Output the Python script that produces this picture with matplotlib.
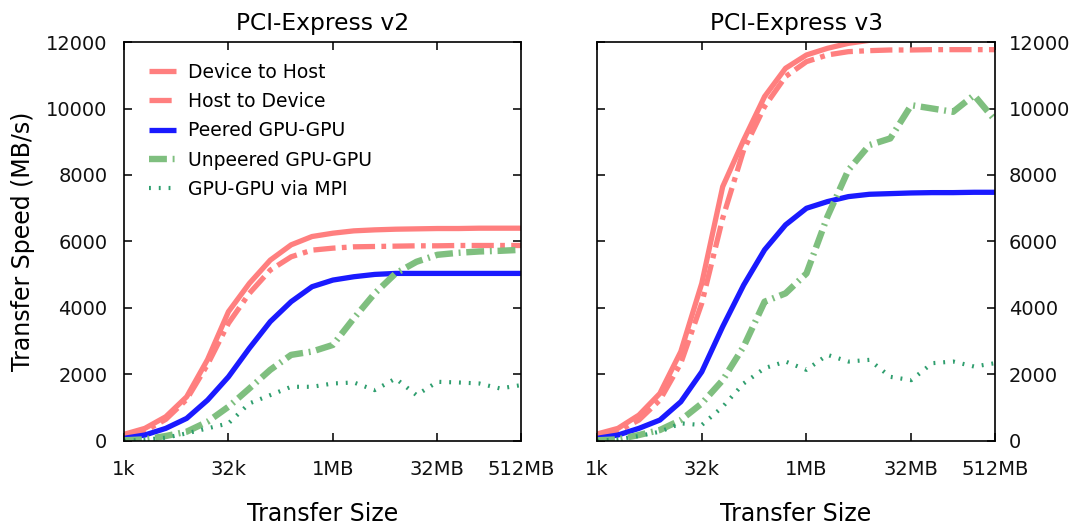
import numpy as np
import matplotlib
matplotlib.use("Agg")
import matplotlib.pyplot as plt

# transfer sizes: 2^10 (1k) .. 2^29 (512MB)
exponents = list(range(10, 30))
tick_exps = [10, 15, 20, 25, 29]
tick_labels = ["1k", "32k", "1MB", "32MB", "512MB"]

# PCI-Express v2 (MB/s)
v2_d2h = [200, 380, 730, 1330, 2450, 3890, 4740, 5440, 5900, 6150, 6250, 6320, 6350, 6370, 6380, 6390, 6390, 6400, 6400, 6400]
v2_h2d = [150, 300, 650, 1250, 2300, 3540, 4440, 5140, 5540, 5740, 5800, 5840, 5850, 5860, 5870, 5870, 5880, 5880, 5880, 5880]
v2_peer = [80, 180, 380, 680, 1230, 1930, 2790, 3590, 4190, 4640, 4840, 4940, 5010, 5040, 5040, 5040, 5040, 5040, 5040, 5040]
v2_unpeer = [20, 50, 150, 280, 580, 1030, 1580, 2140, 2590, 2690, 2890, 3690, 4440, 5040, 5390, 5600, 5660, 5700, 5720, 5750]
v2_mpi = [0, 40, 100, 230, 380, 530, 1130, 1380, 1630, 1630, 1730, 1760, 1530, 1880, 1380, 1780, 1760, 1730, 1580, 1680]

# PCI-Express v3 (MB/s)
v3_d2h = [210, 380, 780, 1430, 2690, 4740, 7650, 9050, 10360, 11210, 11610, 11810, 11960, 12050, 12100, 12150, 12150, 12200, 12200, 12200]
v3_h2d = [150, 300, 630, 1230, 2340, 4140, 6700, 8750, 10060, 10960, 11410, 11610, 11710, 11740, 11760, 11760, 11770, 11770, 11770, 11770]
v3_peer = [80, 180, 380, 630, 1180, 2080, 3440, 4690, 5750, 6500, 7000, 7200, 7350, 7420, 7440, 7460, 7470, 7470, 7480, 7480]
v3_unpeer = [20, 50, 180, 330, 630, 1130, 1830, 2840, 4190, 4440, 5040, 6750, 8150, 8900, 9100, 10100, 10000, 9900, 10400, 9650]
v3_mpi = [0, 50, 150, 280, 530, 480, 1030, 1730, 2190, 2390, 2140, 2590, 2390, 2440, 1930, 1830, 2340, 2390, 2240, 2340]

series_names = ["Device to Host", "Host to Device", "Peered GPU-GPU", "Unpeered GPU-GPU", "GPU-GPU via MPI"]

red = "#ff7f7f"
blue = "#1a1aff"
green = "#7fbf7f"
teal = "#2e9e6e"

styles = [
    dict(color=red, lw=3.8, ls="-"),
    dict(color=red, lw=3.8, ls=(0, (4.2, 1.2, 0.9, 1.2))),
    dict(color=blue, lw=3.8, ls="-"),
    dict(color=green, lw=4.6, ls=(0, (2.8, 0.9, 0.3, 0.9))),
    dict(color=teal, lw=3.0, ls=(0, (0.45, 1.9))),
]

fig = plt.figure(figsize=(10.8, 5.27), dpi=100)
ax1 = fig.add_axes([0.1148, 0.1632, 0.3676, 0.7571])
ax2 = fig.add_axes([0.5528, 0.1632, 0.3685, 0.7571])

x = 2.0 ** np.array(exponents)
panels = [
    (ax1, "PCI-Express v2", [v2_d2h, v2_h2d, v2_peer, v2_unpeer, v2_mpi]),
    (ax2, "PCI-Express v3", [v3_d2h, v3_h2d, v3_peer, v3_unpeer, v3_mpi]),
]

for ax, title, data in panels:
    for name, vals, st in zip(series_names, data, styles):
        ax.plot(x, vals, label=name, solid_capstyle="butt", dash_capstyle="butt", **st)
    ax.set_xscale("log", base=2)
    ax.set_xlim(2.0 ** 10, 2.0 ** 29)
    ax.set_ylim(0, 12000)
    ax.set_xticks(2.0 ** np.array(tick_exps))
    ax.set_xticklabels(tick_labels)
    ax.minorticks_off()
    ax.set_yticks(np.arange(0, 12001, 2000))
    ax.tick_params(direction="in", length=6, width=1.2, top=True, right=True, left=True,
                   labelsize=14, colors="#111111")
    ax.tick_params(axis="x", pad=14)
    ax.set_title(title, fontsize=16.8, pad=9)
    ax.set_xlabel("Transfer Size", fontsize=17, labelpad=16)
    for sp in ax.spines.values():
        sp.set_linewidth(1.2)

ax1.tick_params(axis="y", pad=12)
ax1.set_ylabel("Transfer Speed (MB/s)", fontsize=17, labelpad=8)
ax2.tick_params(axis="y", labelleft=False, labelright=True, pad=10)

leg = ax1.legend(loc="upper left", bbox_to_anchor=(0.044, 0.967), borderaxespad=0,
                 frameon=False, fontsize=13.5, handlelength=1.45,
                 labelspacing=0.55, handletextpad=0.65)

fig.savefig("out.png", dpi=100)
